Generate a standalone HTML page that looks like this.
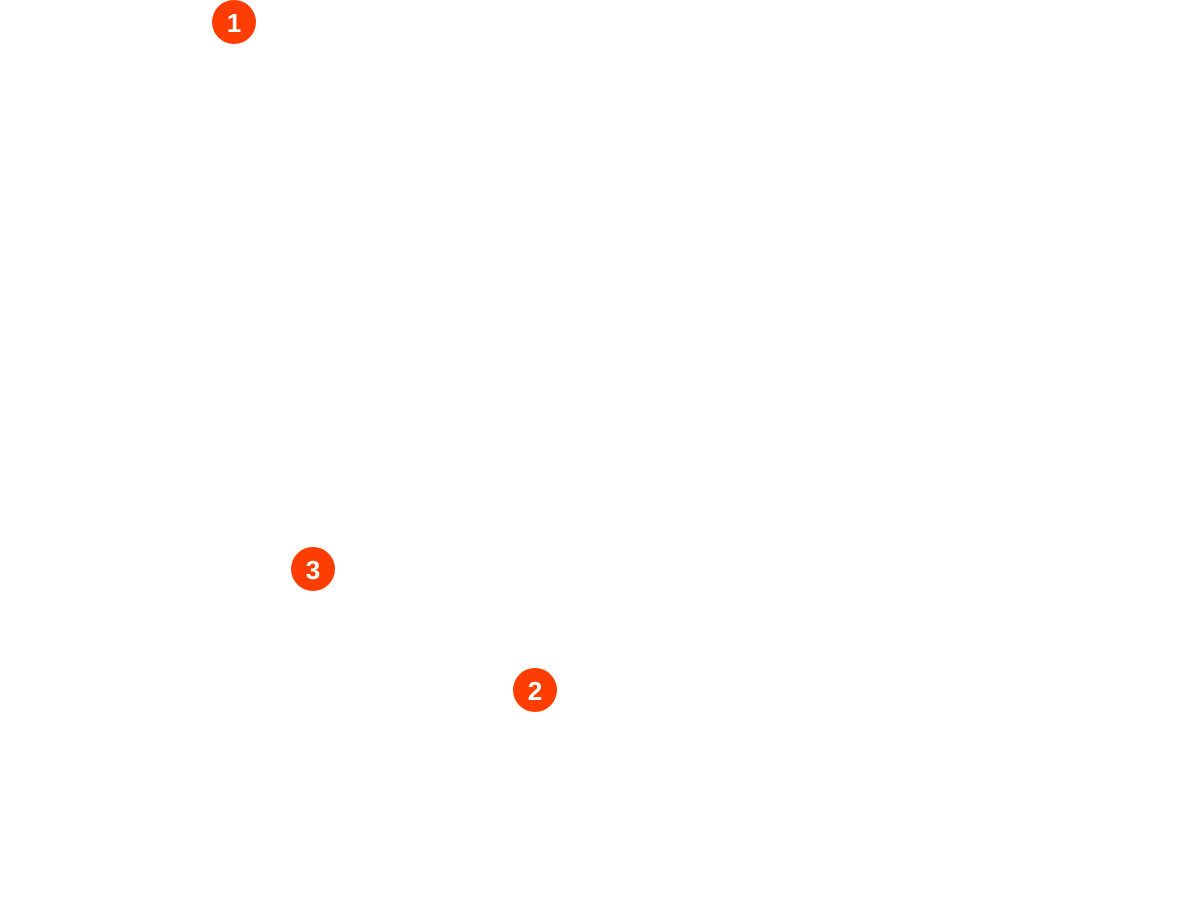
<!DOCTYPE html>
<html><head><style>
html,body{margin:0;padding:0;background:#fff;width:1200px;height:900px;overflow:hidden}
.c{position:absolute;width:44px;height:44px;border-radius:50%;background:#ff3d00;color:#fff;font:bold 26px/46px "Liberation Sans",sans-serif;text-align:center}
</style></head><body>
<div class="c" style="left:212px;top:0px">1</div>
<div class="c" style="left:291px;top:547px">3</div>
<div class="c" style="left:513px;top:668px">2</div>
</body></html>
